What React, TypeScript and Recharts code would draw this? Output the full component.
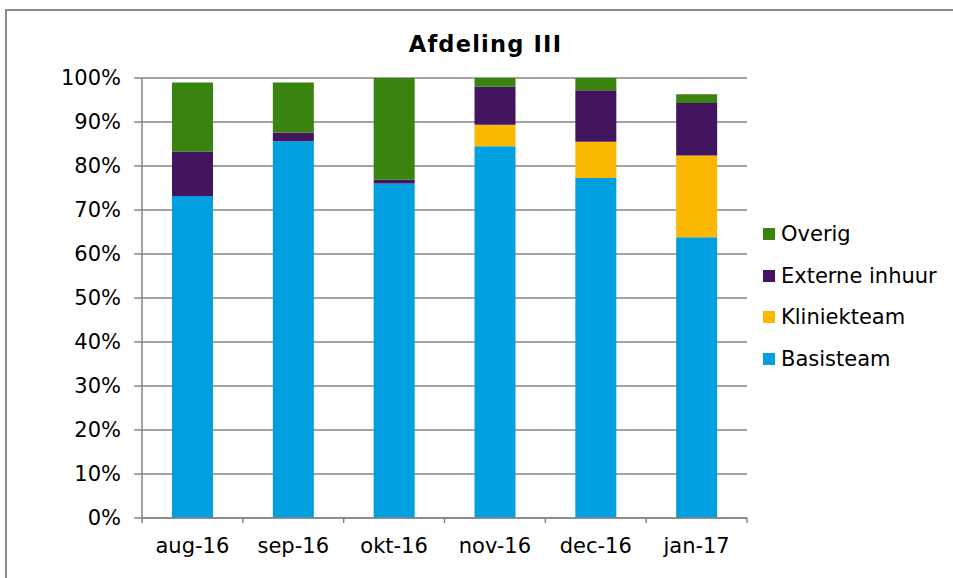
import React from 'react';
import { BarChart, Bar, XAxis, YAxis, CartesianGrid, Legend } from 'recharts';

const CATEGORIES = ['aug-16', 'sep-16', 'okt-16', 'nov-16', 'dec-16', 'jan-17'];
const BASISTEAM = [73.2, 85.6, 76.0, 84.5, 77.3, 63.8];
const KLINIEKTEAM = [0, 0, 0, 4.9, 8.2, 18.6];
const EXTERNE_INHUUR = [10.1, 2.0, 0.9, 8.6, 11.7, 11.9];
const OVERIG = [15.7, 11.35, 23.1, 2.0, 2.8, 2.0];
const Y_TICKS = [0, 10, 20, 30, 40, 50, 60, 70, 80, 90, 100];
const SERIES_NAMES = ['Basisteam', 'Kliniekteam', 'Externe inhuur', 'Overig'];
const SERIES_COLORS = ['#009FDF', '#FAB800', '#43155E', '#38840F'];
const SERIES_VALUES = [BASISTEAM, KLINIEKTEAM, EXTERNE_INHUUR, OVERIG];

const data = CATEGORIES.map((c, i) => {
  const row: any = { name: c };
  SERIES_NAMES.forEach((s, k) => {
    row[s] = SERIES_VALUES[k][i];
  });
  return row;
});

const W = 953;
const H = 578;
const MARGIN = { top: 78, right: 206, bottom: 20, left: 0 };
const Y_AXIS_W = 142;
const X_AXIS_H = 40;
const PLOT_W = W - MARGIN.left - Y_AXIS_W - MARGIN.right;
const BAND = PLOT_W / CATEGORIES.length;
const AXIS_COLOR = '#868686';
const FONT = '"DejaVu Sans", Verdana, sans-serif';

const XTick = (props: any) => {
  const { x, y, payload, index } = props;
  const half = BAND / 2;
  return (
    <g>
      <line x1={x - half} y1={y} x2={x - half} y2={y + 5} stroke={AXIS_COLOR} strokeWidth={1.5} />
      {index === CATEGORIES.length - 1 && (
        <line x1={x + half} y1={y} x2={x + half} y2={y + 5} stroke={AXIS_COLOR} strokeWidth={1.5} />
      )}
      <text x={x} y={y + 35} textAnchor="middle" fill="#000" fontSize={21} fontFamily={FONT}>
        {payload.value}
      </text>
    </g>
  );
};

const renderLegend = (props: any) => {
  const items = [...(props.payload || [])].sort(
    (a: any, b: any) => SERIES_NAMES.indexOf(b.value) - SERIES_NAMES.indexOf(a.value)
  );
  return (
    <div style={{ fontFamily: FONT, fontSize: 21, color: '#000' }}>
      {items.map((it: any) => (
        <div key={it.value} style={{ display: 'flex', alignItems: 'center', height: 41.7 }}>
          <span style={{ display: 'inline-block', width: 12, height: 12, background: it.color, marginRight: 6 }} />
          <span style={{ whiteSpace: 'nowrap' }}>{it.value}</span>
        </div>
      ))}
    </div>
  );
};

export default function App() {
  return (
    <div style={{ position: 'fixed', left: 0, top: 0, width: W, height: H, overflow: 'hidden', background: '#fff' }}>
      <div style={{ position: 'absolute', left: 5, top: 9, width: 1000, height: 1000, border: '2px solid #8a8a8a' }} />
      <div
        style={{
          position: 'absolute',
          left: 385.5,
          top: 31,
          width: 200,
          textAlign: 'center',
          fontFamily: FONT,
          fontWeight: 'bold',
          fontSize: 22.5,
          letterSpacing: 1.2,
          color: '#000',
          whiteSpace: 'nowrap',
        }}
      >
        Afdeling III
      </div>
      <div style={{ position: 'absolute', left: 0, top: 0 }}>
        <BarChart width={W} height={H} data={data} margin={MARGIN}>
          <CartesianGrid vertical={false} stroke={AXIS_COLOR} strokeWidth={1.5} />
          <XAxis
            dataKey="name"
            height={X_AXIS_H}
            stroke={AXIS_COLOR}
            strokeWidth={1.5}
            tickLine={false}
            tickSize={0}
            tickMargin={0}
            tick={<XTick />}
            interval={0}
          />
          <YAxis
            width={Y_AXIS_W}
            domain={[0, 100]}
            ticks={Y_TICKS}
            interval={0}
            tickFormatter={(v: number) => `${v}%`}
            stroke={AXIS_COLOR}
            strokeWidth={1.5}
            tickSize={8}
            tickMargin={13}
            tick={{ fill: '#000', fontSize: 21, fontFamily: FONT }}
            allowDataOverflow
          />
          <Legend
            layout="vertical"
            verticalAlign="middle"
            align="center"
            content={renderLegend}
            wrapperStyle={{ position: 'absolute', left: 763, top: 213, width: 190 }}
          />
          {SERIES_NAMES.map((s, k) => (
            <Bar key={s} dataKey={s} stackId="a" fill={SERIES_COLORS[k]} barSize={41} isAnimationActive={false} />
          ))}
        </BarChart>
      </div>
    </div>
  );
}
